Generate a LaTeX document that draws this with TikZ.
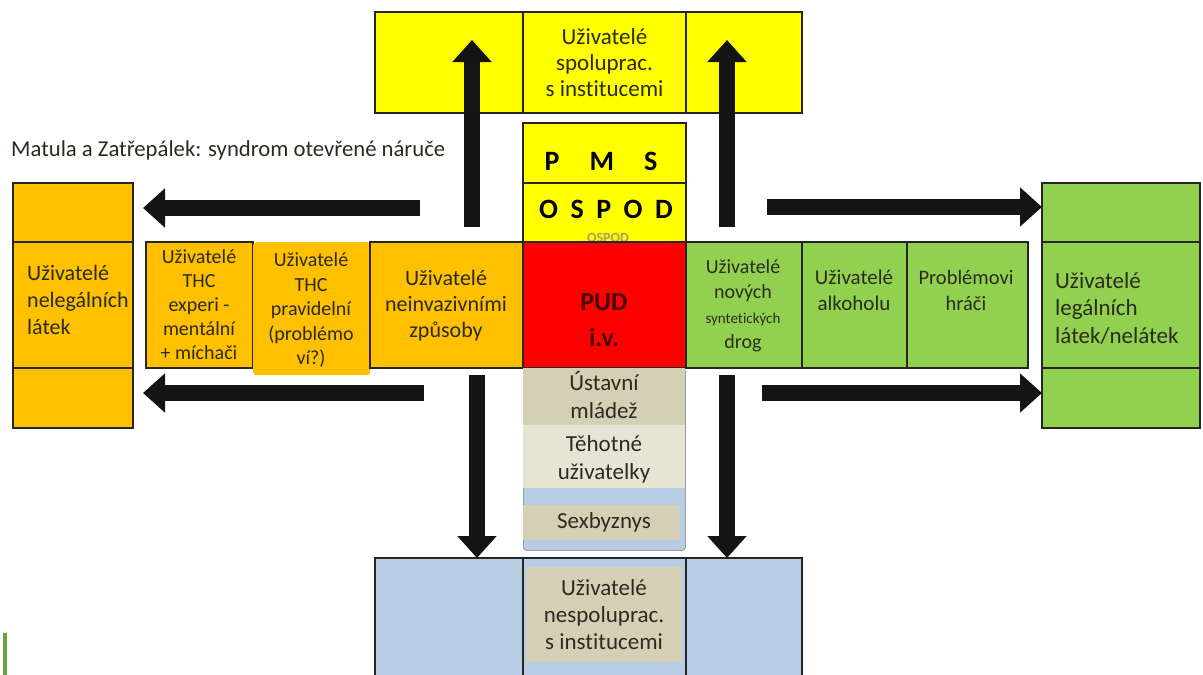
\documentclass[tikz,border=0pt]{standalone}
\usepackage{fontspec}
\setmainfont{Carlito}[Ligatures=NoCommon]
\usetikzlibrary{arrows.meta}
\definecolor{cyel}{HTML}{FFFF00}
\definecolor{corg}{HTML}{FFC000}
\definecolor{cgrn}{HTML}{92D050}
\definecolor{cred}{HTML}{FF0000}
\definecolor{cblu}{HTML}{B8CCE4}
\definecolor{ctan}{HTML}{D4D0B6}
\definecolor{cltan}{HTML}{E6E4D4}
\definecolor{ctxt}{HTML}{2B2B1F}
\definecolor{cpud}{HTML}{4A0505}
\definecolor{cfade}{HTML}{A8A260}
\definecolor{cart}{HTML}{6CA43A}
\newcommand\mybox[7][]{\node[cell,fill=#3,minimum width=#6pt,minimum height=#7pt,#1] (#2) at (#4,#5) {};}
\tikzset{
 cell/.style={draw=black!85, line width=1.4pt, anchor=north west, inner sep=0pt, outer sep=0pt},
 txt/.style={align=center, text=ctxt, inner sep=0pt},
 bigarrow/.style={line width=16pt, -{Triangle[width=38pt,length=22pt]}, black!92},
}
\begin{document}
\begin{tikzpicture}[x=1pt,y=-1pt]
\clip (0,0) rectangle (1203,675);
\fill[white] (0,0) rectangle (1203,675);
% top box
\mybox{ytl}{cyel}{375}{12}{148}{101}
\mybox{ytc}{cyel}{523}{12}{163}{101}
\mybox{ytr}{cyel}{686}{12}{116}{101}
\node[txt,font=\fontsize{23}{26}\selectfont] (ttop) at (ytc.center) {Uživatelé\\spoluprac.\\s institucemi};
% PMS / OSPOD
\mybox{pms}{cyel}{523}{123}{163}{60}
\mybox{ospod}{cyel}{523}{183}{163}{59}
\node[txt,font=\fontsize{28}{30}\selectfont\bfseries,text=black] (tpms) at (601,161) {P\hspace{30pt}M\hspace{30pt}S};
\node[txt,font=\fontsize{28}{30}\selectfont\bfseries,text=black] (tospod) at (606,209) {O\hspace{12.5pt}S\hspace{12.5pt}P\hspace{12.5pt}O\hspace{12.5pt}D};
\node[txt,font=\fontsize{14}{16}\selectfont\bfseries,text=cfade] (tfade) at (608,238) {OSPOD};
% title
\node[txt,anchor=west,font=\fontsize{22.7}{27}\selectfont] (title) at (11,150) {Matula a Zatřepálek: syndrom otevřené náruče};
% left box
\mybox{lt}{corg}{13}{183}{120}{59}
\mybox{lm}{corg}{13}{242}{120}{126}
\mybox{lb}{corg}{13}{368}{120}{60}
\node[txt,align=left,anchor=west,font=\fontsize{22}{27}\selectfont] (tlm) at (27,300) {Uživatelé\\nelegálních\\látek};
% right box
\mybox{rt}{cgrn}{1042}{183}{158}{59}
\mybox{rm}{cgrn}{1042}{242}{158}{126}
\mybox{rb}{cgrn}{1042}{368}{158}{60}
\node[txt,align=left,anchor=west,font=\fontsize{23}{27.5}\selectfont] (trm) at (1055,308) {Uživatelé\\legálních\\látek/nelátek};
% middle band
\mybox{c1}{corg}{146}{242}{107}{126}
\node[anchor=north west,fill=corg,rounded corners=3pt,minimum width=117pt,minimum height=133pt,inner sep=0pt] (c2) at (253,242) {};
\mybox{c3}{corg}{370}{242}{153}{126}
\mybox{red}{cred}{523}{242}{163}{126}
\mybox{g1}{cgrn}{686}{242}{116}{126}
\mybox{g2}{cgrn}{802}{242}{105}{126}
\mybox{g3}{cgrn}{907}{242}{121}{126}
\node[txt,font=\fontsize{20}{24}\selectfont] (tc1) at (199,305) {Uživatelé\\THC\\experi -\\mentální\\+ míchači};
\node[txt,font=\fontsize{20}{24.5}\selectfont] (tc2) at (311,310) {Uživatelé\\THC\\pravidelní\\(problémo\\ví?)};
\node[txt,font=\fontsize{22}{26}\selectfont] (tc3) at (446,306) {Uživatelé\\neinvazivními\\způsoby};
\node[txt,font=\fontsize{26}{36}\selectfont\bfseries,text=cpud] (tred) at (604,320) {PUD\\i.v.};
\node[txt,align=center,font=\fontsize{20}{25}\selectfont] (tg1) at (743,306) {Uživatelé\\nových\\{\fontsize{15}{20}\selectfont syntetických}\\drog};
\node[txt,font=\fontsize{21}{26}\selectfont] (tg2) at (854,290) {Uživatelé\\alkoholu};
\node[txt,font=\fontsize{20.5}{26}\selectfont] (tg3) at (966,290) {Problémovi\\hráči};
% stack below red
\node[anchor=north west,fill=cblu,draw=black!40,line width=0.8pt,rounded corners=3pt,minimum width=162pt,minimum height=182pt,inner sep=0pt] (stack) at (523,368) {};
\fill[ctan] (523,368) rectangle (685,425);
\fill[cltan] (523,425) rectangle (685,488);
\fill[ctan] (523,505) rectangle (680,540);
\node[txt,font=\fontsize{23}{28}\selectfont] (tust) at (604,395) {Ústavní\\mládež};
\node[txt,font=\fontsize{23}{28}\selectfont] (tteh) at (604,459) {Těhotné\\uživatelky};
\node[txt,font=\fontsize{23}{24}\selectfont] (tsex) at (604,522) {Sexbyznys};
% bottom box
\mybox{bl}{cblu}{375}{558}{148}{130}
\mybox{bc}{cblu}{523}{558}{163}{130}
\mybox{br}{cblu}{686}{558}{116}{130}
\fill[ctan] (526,567) rectangle (682,662);
\node[txt,font=\fontsize{23}{27}\selectfont] (tbot) at (604,615) {Uživatelé\\nespoluprac.\\s institucemi};
% artifact
\fill[cart] (3,633) rectangle (7,675);
% arrows
\coordinate (au1) at (472,227); \coordinate (au1e) at (472,40);
\coordinate (au2) at (727,227); \coordinate (au2e) at (727,40);
\coordinate (al1) at (420,208); \coordinate (al1e) at (143,208);
\coordinate (al2) at (424,393); \coordinate (al2e) at (143,393);
\coordinate (ar1) at (767,207);
\coordinate (ar2) at (762,393);
\coordinate (ad1) at (477,375);
\coordinate (ad2) at (727,375);
\draw[bigarrow] (au1) -- (au1e);
\draw[bigarrow] (au2) -- (au2e);
\draw[bigarrow] (al1) -- (al1e);
\draw[bigarrow] (al2) -- (al2e);
\draw[bigarrow] (ar1) -- (ar1 -| rt.west);
\draw[bigarrow] (ar2) -- (ar2 -| rb.west);
\draw[bigarrow] (ad1) -- (ad1 |- bl.north);
\draw[bigarrow] (ad2) -- (ad2 |- br.north);
\end{tikzpicture}
\end{document}
